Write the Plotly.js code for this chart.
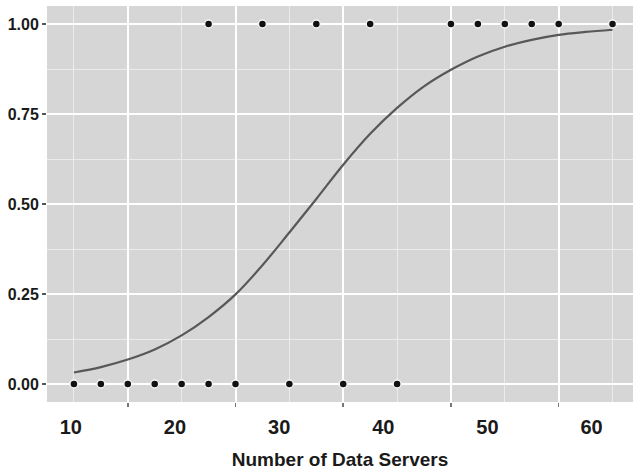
<!DOCTYPE html>
<html>
<head>
<meta charset="utf-8">
<script src="https://cdn.plot.ly/plotly-3.0.1.min.js"></script>
<style>html,body{margin:0;padding:0;background:#fff;}</style>
</head>
<body>
<div id="chart" style="width:633px;height:471px;"></div>
<script>
// Observed outcomes (0 = no, 1 = yes) by number of data servers
const serversOutcome0 = [10, 12.5, 15, 17.5, 20, 22.5, 25, 30, 35, 40];
const outcome0 = [0, 0, 0, 0, 0, 0, 0, 0, 0, 0];
const serversOutcome1 = [22.5, 27.5, 32.5, 37.5, 45, 47.5, 50, 52.5, 55, 60];
const outcome1 = [1, 1, 1, 1, 1, 1, 1, 1, 1, 1];

// Fitted probability curve
const curveServers = [10, 12.5, 15, 17.5, 20, 22.5, 25, 27.5, 30, 32.5, 35, 37.5, 40, 42.5, 45, 47.5, 50, 52.5, 55, 57.5, 60];
const curveProb = [0.032, 0.047, 0.068, 0.096, 0.135, 0.186, 0.249, 0.33, 0.421, 0.514, 0.609, 0.695, 0.767, 0.827, 0.873, 0.91, 0.937, 0.956, 0.97, 0.978, 0.984];

// Axis labels
const yTickVals = [0, 0.25, 0.5, 0.75, 1];
const yTickText = ['0.00', '0.25', '0.50', '0.75', '1.00'];
const xTitle = 'Number of Data Servers';

const boldFont = {family: 'Liberation Sans, Arial, sans-serif', weight: 700, color: '#1a1a1a'};

const traces = [
  {
    x: curveServers, y: curveProb, type: 'scatter', mode: 'lines',
    line: {color: '#585858', width: 2.2, shape: 'spline', smoothing: 1},
    hoverinfo: 'skip', showlegend: false
  },
  {
    x: serversOutcome0.concat(serversOutcome1),
    y: outcome0.concat(outcome1),
    type: 'scatter', mode: 'markers',
    marker: {color: '#111', size: 8, line: {color: '#f4f4f4', width: 1.5}},
    showlegend: false
  },
  {
    x: [35], y: [null], xaxis: 'x2', type: 'scatter', mode: 'markers',
    showlegend: false, hoverinfo: 'skip'
  }
];

const layout = {
  width: 633, height: 471,
  margin: {l: 47, r: 0, t: 6, b: 69, pad: 0},
  paper_bgcolor: '#ffffff',
  plot_bgcolor: '#d6d6d7',
  showlegend: false,
  xaxis: {
    range: [7.5, 61.9],
    tick0: 15, dtick: 10,
    showgrid: true, gridcolor: '#ffffff', gridwidth: 2,
    minor: {tick0: 10, dtick: 10, showgrid: true, gridcolor: '#ececec', gridwidth: 1},
    ticks: 'outside', ticklen: 4, tickwidth: 1.5, tickcolor: '#777',
    showticklabels: false,
    zeroline: false, showline: false
  },
  xaxis2: {
    overlaying: 'x', anchor: 'y', side: 'bottom',
    range: [7.71, 63.98],
    tick0: 10, dtick: 10,
    showgrid: false, zeroline: false, showline: false,
    ticks: '', ticklabelstandoff: 11,
    tickfont: Object.assign({size: 20}, boldFont),
    title: {text: xTitle, font: Object.assign({size: 19}, boldFont), standoff: 15}
  },
  yaxis: {
    range: [-0.05, 1.05],
    tickvals: yTickVals, ticktext: yTickText,
    showgrid: true, gridcolor: '#ffffff', gridwidth: 2,
    minor: {tick0: 0.125, dtick: 0.25, showgrid: true, gridcolor: '#ececec', gridwidth: 1},
    ticks: 'outside', ticklen: 4, tickwidth: 1.5, tickcolor: '#555',
    tickfont: Object.assign({size: 16}, boldFont),
    zeroline: false, showline: false
  }
};

Plotly.newPlot('chart', traces, layout, {displayModeBar: false, staticPlot: true});
</script>
</body>
</html>
